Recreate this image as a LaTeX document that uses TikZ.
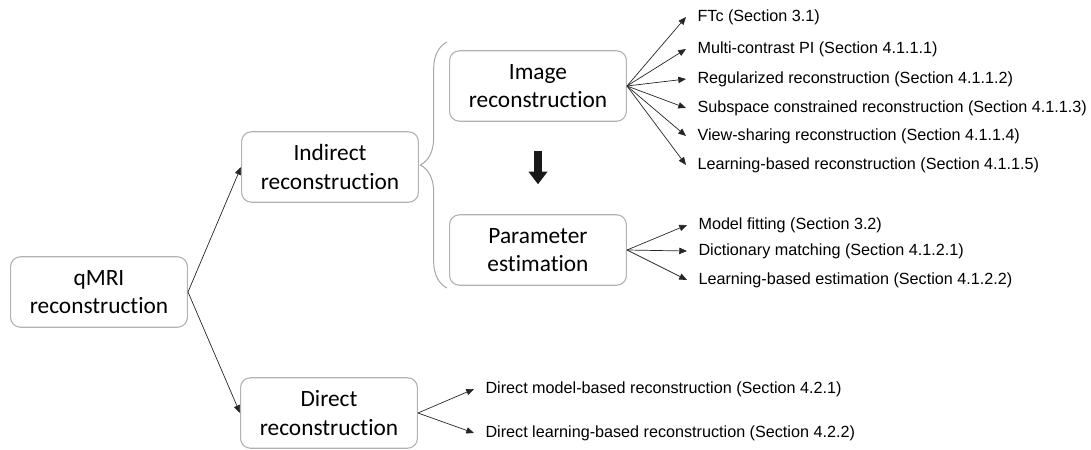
\documentclass[tikz,border=0pt]{standalone}
\usepackage{fontspec}
\setmainfont{Carlito}[Ligatures=NoCommon]
\newfontfamily\leaffont{Liberation Sans}
\usetikzlibrary{arrows.meta,decorations.pathreplacing}

\begin{document}
\begin{tikzpicture}
    [
        x=0.025cm, y=-0.025cm,
        Box/.style={rectangle,rounded corners=7pt,minimum width=4.42cm,minimum height=1.76cm,draw=gray!60,line width=0.8pt,align=center,font=\fontsize{16.6}{20}\selectfont},
        Leaf/.style={anchor=west,inner xsep=8pt,inner ysep=1pt,font=\leaffont\fontsize{11.5}{13}\selectfont},
        Link/.style={draw=black!85,line width=0.5pt,-{Triangle[length=5.5pt,width=4.5pt]}},
        BigArrow/.style={line width=5pt,black!90,-{Triangle[length=9pt,width=13pt]}}
    ]
    \useasboundingbox (0,0) rectangle (1091,449);

    \node[Box] (qMRI) at (99,292) {qMRI\\reconstruction};
    \node[Box] (Indirect) at (330,167) {Indirect\\reconstruction};
    \node[Box] (Direct) at (329,413) {Direct\\reconstruction};
    \node[Box] (ImageRec) at (538,86) {Image\\reconstruction};
    \node[Box] (ParamEst) at (538,250) {Parameter\\estimation};

    \draw[Link] (qMRI.east) -- (Indirect.west);
    \draw[Link] (qMRI.east) -- (Direct.west);

    \draw[decorate,decoration={brace,amplitude=19pt,aspect=0.5},gray!70,line width=0.7pt] (447,288) -- (447,42);
    \draw[BigArrow,shorten <=20.6pt,shorten >=21.3pt] (ImageRec) -- (ParamEst);

    \node[Leaf] (FTc) at (686,17) {FTc (Section 3.1)};
    \node[Leaf] (MultiPI) at (686,49) {Multi-contrast PI (Section 4.1.1.1)};
    \node[Leaf] (Regular) at (686,79) {Regularized reconstruction (Section 4.1.1.2)};
    \node[Leaf] (Subspace) at (686,108) {Subspace constrained reconstruction (Section 4.1.1.3)};
    \node[Leaf] (ViewShare) at (686,136) {View-sharing reconstruction (Section 4.1.1.4)};
    \node[Leaf] (LearnRec) at (686,165) {Learning-based reconstruction (Section 4.1.1.5)};

    \node[Leaf] (ModelFit) at (687,225) {Model fitting (Section 3.2)};
    \node[Leaf] (DictMatch) at (687,251) {Dictionary matching (Section 4.1.2.1)};
    \node[Leaf] (LearnEst) at (687,280) {Learning-based estimation (Section 4.1.2.2)};

    \node[Leaf] (DirModel) at (474,389) {Direct model-based reconstruction (Section 4.2.1)};
    \node[Leaf] (DirLearn) at (474,433) {Direct learning-based reconstruction (Section 4.2.2)};

    \foreach \leaf in {FTc,MultiPI,Regular,Subspace,ViewShare,LearnRec}
        \draw[Link] (ImageRec.east) -- (\leaf.west);
    \foreach \leaf in {ModelFit,DictMatch,LearnEst}
        \draw[Link] (ParamEst.east) -- (\leaf.west);
    \foreach \leaf in {DirModel,DirLearn}
        \draw[Link] (Direct.east) -- (\leaf.west);
\end{tikzpicture}
\end{document}
